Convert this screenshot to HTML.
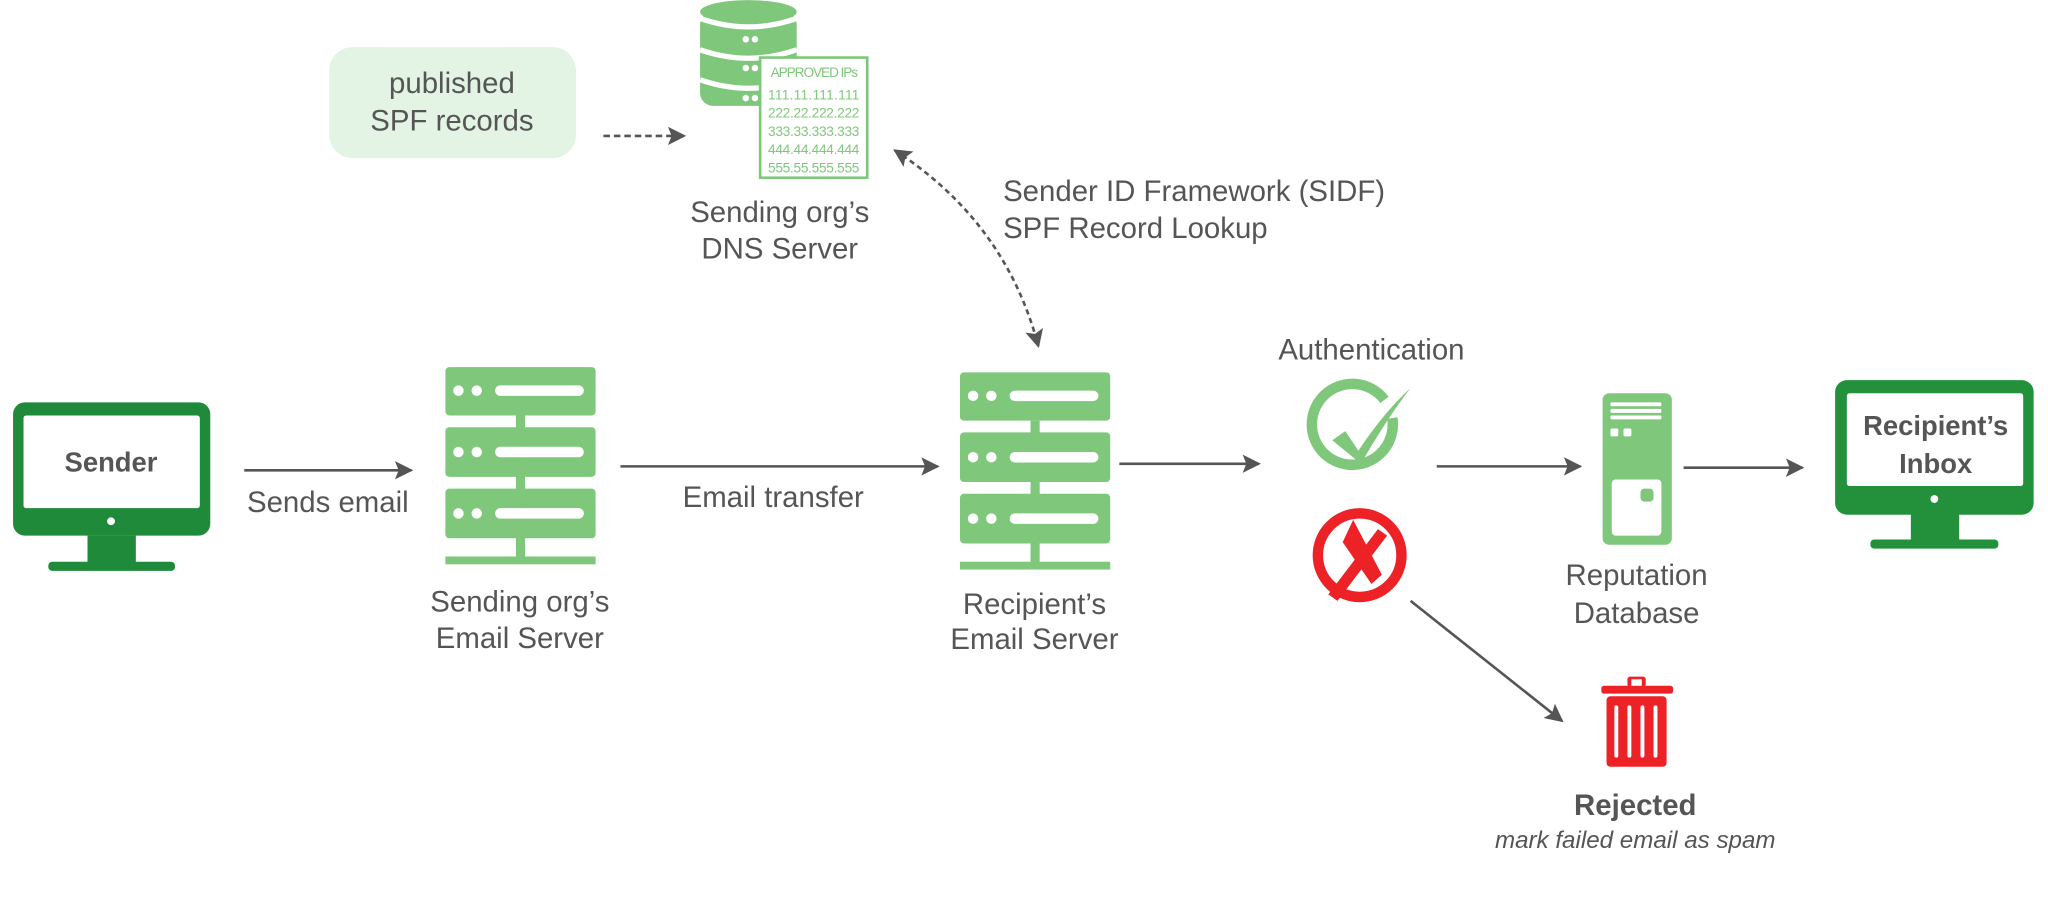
<!DOCTYPE html>
<html><head><meta charset="utf-8"><style>html,body{margin:0;padding:0;background:#fff}svg{display:block}</style></head>
<body>
<svg width="2048" height="921" viewBox="0 0 1568 705" xmlns="http://www.w3.org/2000/svg" font-family="Liberation Sans, sans-serif">
<defs>
<marker id="ah" viewBox="0 0 10 10" refX="9" refY="5" markerWidth="14" markerHeight="14" markerUnits="userSpaceOnUse" orient="auto"><path d="M0,0 L10,5 L0,10 L2,5 Z" fill="#555"/></marker>
<marker id="ahs" viewBox="0 0 10 10" refX="1" refY="5" markerWidth="14" markerHeight="14" markerUnits="userSpaceOnUse" orient="auto"><path d="M10,0 L0,5 L10,10 L8,5 Z" fill="#555"/></marker>
<g id="srv">
<rect x="0" y="0" width="115" height="37" rx="3" fill="#7fc77a"/>
<rect x="0" y="46" width="115" height="38" rx="3" fill="#7fc77a"/>
<rect x="0" y="93" width="115" height="38" rx="3" fill="#7fc77a"/>
<rect x="54" y="37" width="7" height="110" fill="#7fc77a"/>
<rect x="0" y="145" width="115" height="6" fill="#7fc77a"/>
<g fill="#fff"><circle cx="10" cy="18" r="4"/><circle cx="24" cy="18" r="4"/><rect x="38" y="14" width="68" height="8" rx="4"/>
<circle cx="10" cy="65" r="4"/><circle cx="24" cy="65" r="4"/><rect x="38" y="61" width="68" height="8" rx="4"/>
<circle cx="10" cy="112" r="4"/><circle cx="24" cy="112" r="4"/><rect x="38" y="108" width="68" height="8" rx="4"/></g>
</g>
</defs>
<g font-size="22.5" fill="#555" text-anchor="middle">
<rect x="252" y="36" width="189" height="85" rx="18" fill="#e3f4e5"/>
<text x="346" y="71">published</text><text x="346" y="100">SPF records</text>
<line x1="462" y1="104" x2="524" y2="104" stroke="#555" stroke-width="2" stroke-dasharray="5,3" marker-end="url(#ah)"/>
<!-- DNS -->
<g fill="#7fc77a">
<ellipse cx="573" cy="9" rx="37" ry="9"/>
<rect x="536" y="9" width="74" height="72" rx="10"/>
</g>
<g stroke="#fff" stroke-width="4" fill="none"><path d="M536,14 Q573,27 610,14"/><path d="M536,38 Q573,51 610,38"/><path d="M536,61 Q573,74 610,61"/></g>
<g fill="#fff"><circle cx="571" cy="30" r="2.5"/><circle cx="578" cy="30" r="2.5"/><circle cx="571" cy="52" r="2.5"/><circle cx="578" cy="52" r="2.5"/><circle cx="571" cy="75" r="2.5"/><circle cx="578" cy="75" r="2.5"/></g>
<rect x="582" y="44" width="82" height="92" fill="#fff" stroke="#7fc77a" stroke-width="2"/>
<g fill="#7fc77a" font-size="10.5" text-anchor="start" textLength="72"><text x="590" y="59" textLength="67">APPROVED IPs</text>
<text x="588" y="76" textLength="70">111.11.111.111</text><text x="588" y="90" textLength="70">222.22.222.222</text><text x="588" y="104" textLength="70">333.33.333.333</text><text x="588" y="118" textLength="70">444.44.444.444</text><text x="588" y="132" textLength="70">555.55.555.555</text></g>
<text x="597" y="170">Sending org’s</text><text x="597" y="198">DNS Server</text>
<path d="M685,115 Q770,170 795,265" fill="none" stroke="#555" stroke-width="2" stroke-dasharray="4,3" marker-start="url(#ahs)" marker-end="url(#ah)"/>
<g text-anchor="start"><text x="768" y="154">Sender ID Framework (SIDF)</text><text x="768" y="182">SPF Record Lookup</text></g>
<!-- sender -->
<rect x="10" y="308" width="151" height="102" rx="9" fill="#1e8a3a"/>
<rect x="18" y="318" width="135" height="71" rx="2" fill="#fff"/>
<circle cx="85" cy="399" r="3" fill="#fff"/>
<rect x="67" y="410" width="37" height="21" fill="#1e8a3a"/><rect x="37" y="430" width="97" height="7" rx="3" fill="#1e8a3a"/>
<text x="85" y="361" font-weight="bold" font-size="21">Sender</text>
<line x1="187" y1="360" x2="315" y2="360" stroke="#555" stroke-width="2" marker-end="url(#ah)"/>
<text x="251" y="392">Sends email</text>
<use href="#srv" x="341" y="281"/>
<text x="398" y="468">Sending org’s</text><text x="398" y="496">Email Server</text>
<line x1="475" y1="357" x2="718" y2="357" stroke="#555" stroke-width="2" marker-end="url(#ah)"/>
<text x="592" y="388">Email transfer</text>
<use href="#srv" x="735" y="285"/>
<text x="792" y="470">Recipient’s</text><text x="792" y="497">Email Server</text>
<line x1="857" y1="355" x2="964" y2="355" stroke="#555" stroke-width="2" marker-end="url(#ah)"/>
<text x="1050" y="275">Authentication</text>
<!-- check -->
<path d="M1060,306 A31,31 0 1 0 1066,320" fill="none" stroke="#7fc77a" stroke-width="8"/>
<path d="M1020,337 L1030,330 L1040,345 Q1060,315 1080,297 Q1062,320 1042,355 Z" fill="#7fc77a"/>
<!-- x -->
<circle cx="1041" cy="425" r="32" fill="none" stroke="#ed2227" stroke-width="8"/>
<path d="M1028,415 L1036,398 L1058,440 L1050,447 Z" fill="#ed2227"/>
<path d="M1017,455 L1055,405 L1062,410 L1024,460 Z" fill="#ed2227"/>
<line x1="1100" y1="357" x2="1210" y2="357" stroke="#555" stroke-width="2" marker-end="url(#ah)"/>
<!-- reputation db -->
<rect x="1227" y="301" width="53" height="116" rx="5" fill="#7fc77a"/>
<g fill="#fff"><rect x="1233" y="308" width="39" height="3" rx="1"/><rect x="1233" y="313" width="39" height="3" rx="1"/><rect x="1233" y="318" width="39" height="3" rx="1"/>
<rect x="1233" y="328" width="6" height="6" rx="1"/><rect x="1243" y="328" width="6" height="6" rx="1"/>
<rect x="1234" y="367" width="38" height="43" rx="3"/></g>
<rect x="1256" y="374" width="10" height="10" rx="3" fill="#7fc77a"/>
<text x="1253" y="448">Reputation</text><text x="1253" y="477">Database</text>
<line x1="1289" y1="358" x2="1380" y2="358" stroke="#555" stroke-width="2" marker-end="url(#ah)"/>
<!-- inbox -->
<rect x="1405" y="291" width="152" height="103" rx="9" fill="#23913c"/>
<rect x="1414" y="301" width="135" height="71" rx="2" fill="#fff"/>
<circle cx="1481" cy="382" r="3" fill="#fff"/>
<rect x="1463" y="393" width="37" height="21" fill="#23913c"/><rect x="1432" y="413" width="98" height="7" rx="3" fill="#23913c"/>
<g font-weight="bold" font-size="21"><text x="1482" y="333">Recipient’s</text><text x="1482" y="362">Inbox</text></g>
<line x1="1080" y1="460" x2="1196" y2="552" stroke="#555" stroke-width="2" marker-end="url(#ah)"/>
<!-- trash -->
<g fill="#ed2227"><rect x="1226" y="525" width="55" height="6" rx="2"/><rect x="1246" y="518" width="14" height="8" rx="2"/><rect x="1230" y="533" width="46" height="54" rx="3"/></g>
<rect x="1249" y="520" width="8" height="5" fill="#fff"/>
<g fill="#fff"><rect x="1236" y="540" width="3" height="40" rx="1.5"/><rect x="1246" y="540" width="3" height="40" rx="1.5"/><rect x="1256" y="540" width="3" height="40" rx="1.5"/><rect x="1266" y="540" width="3" height="40" rx="1.5"/></g>
<text x="1252" y="624" font-weight="bold">Rejected</text>
<text x="1252" y="649" font-style="italic" font-size="18.5">mark failed email as spam</text>
</g>
</svg>
</body></html>
